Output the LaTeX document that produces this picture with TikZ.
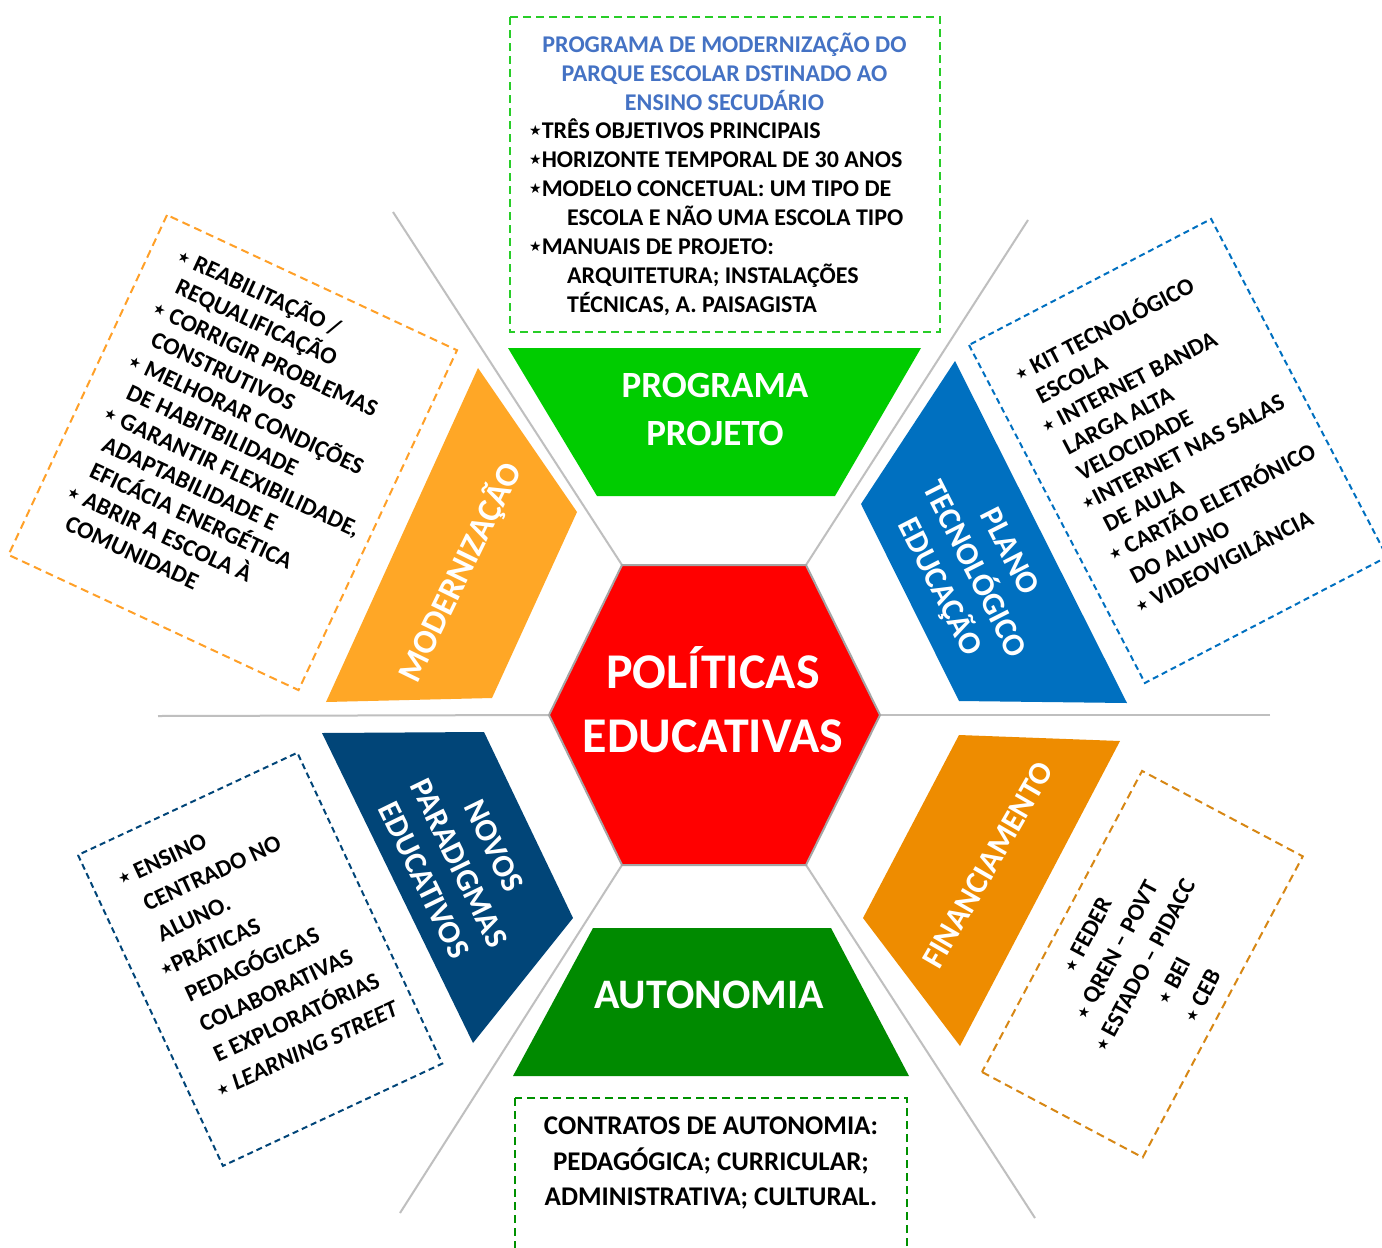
\documentclass[tikz,border=0pt]{standalone}
\usepackage{fontspec}
\setmainfont{Carlito}
\newfontfamily\starfont{DejaVu Sans}
\newcommand{\bst}{\raisebox{2.5pt}{\starfont\fontsize{14}{14}\selectfont ★}}
\definecolor{cGreenTop}{RGB}{0,204,0}
\definecolor{cGreenBot}{RGB}{0,138,0}
\definecolor{cOrangeMod}{RGB}{255,167,38}
\definecolor{cBlue}{RGB}{0,112,192}
\definecolor{cNavy}{RGB}{1,69,120}
\definecolor{cOrangeFin}{RGB}{238,140,0}
\definecolor{cRed}{RGB}{255,0,0}
\definecolor{cLine}{RGB}{191,191,191}
\definecolor{cHexEdge}{RGB}{165,165,165}
\definecolor{cTitle}{RGB}{68,114,196}
\definecolor{cDashTop}{RGB}{40,205,40}
\definecolor{cDashBot}{RGB}{0,145,0}
\definecolor{cDashOr}{RGB}{255,160,40}
\definecolor{cDashFin}{RGB}{215,135,20}
\tikzset{
  greyline/.style={draw=cLine, line width=2pt},
  dbox/.style={dash pattern=on 8pt off 5pt, line width=2pt},
  bigtxt/.style={text=white, align=center, inner sep=0pt},
  boxtxt/.style={font=\bfseries\fontsize{24}{29}\selectfont, align=left, inner sep=0pt},
}
\begin{document}
\begin{tikzpicture}[x=1pt,y=-1pt]
\useasboundingbox (0,0) rectangle (1382,1248);
\fill[white] (0,0) rectangle (1382,1248);

% hexagon vertices
\coordinate (h1) at (549,715);
\coordinate (h2) at (622,565);
\coordinate (h3) at (806,565);
\coordinate (h4) at (880,715);
\coordinate (h5) at (806,865);
\coordinate (h6) at (622,865);
% outer ends of the grey lines
\coordinate (eUL) at (393,212);
\coordinate (eUR) at (1028,220);
\coordinate (eL) at (158,716);
\coordinate (eR) at (1270,715);
\coordinate (eLL) at (400,1213);
\coordinate (eLR) at (1035,1218);

\draw[greyline] (eUL) -- (h2);
\draw[greyline] (eUR) -- (h3);
\draw[greyline] (eL) -- (h1);
\draw[greyline] (eR) -- (h4);
\draw[greyline] (eLL) -- (h6);
\draw[greyline] (eLR) -- (h5);

\filldraw[fill=cRed, draw=cHexEdge, line width=2pt] (h1)--(h2)--(h3)--(h4)--(h5)--(h6)--cycle;
\node[bigtxt, font=\bfseries\fontsize{50}{64}\selectfont] (pol) at (713,700) {POLÍTICAS\\EDUCATIVAS};

% trapezoids
\fill[cGreenTop] (508,348) -- (921,348) -- (835,496) -- (597,496) -- cycle;
\node[bigtxt, font=\bfseries\fontsize{37}{48}\selectfont] (prog) at (715,409) {PROGRAMA\\PROJETO};

\fill[cOrangeMod] (478,368) -- (577,512) -- (492,698) -- (326,702) -- cycle;
\node[bigtxt, rotate=64, font=\bfseries\fontsize{34}{40}\selectfont] (mod) at (460,572) {MODERNIZAÇÃO};

\fill[cBlue] (955,361) -- (1127,703) -- (959,701) -- (861,504) -- cycle;
\node[bigtxt, rotate=-63, font=\bfseries\fontsize{32}{39}\selectfont] (plano) at (973,570) {PLANO\\TECNOLÓGICO\\EDUCAÇÃO};

\fill[cNavy] (322,733) -- (484,732) -- (573,918) -- (473,1043) -- cycle;
\node[bigtxt, rotate=-64, font=\bfseries\fontsize{32}{39}\selectfont] (novos) at (459,863) {NOVOS\\PARADIGMAS\\EDUCATIVOS};

\fill[cOrangeFin] (959,735) -- (1120,741) -- (960,1046) -- (863,918) -- cycle;
\node[bigtxt, rotate=60, font=\bfseries\fontsize{32}{39}\selectfont] (fin) at (988,865) {FINANCIAMENTO};

\fill[cGreenBot] (593,928) -- (831,928) -- (909,1076) -- (513,1076) -- cycle;
\node[bigtxt, font=\bfseries\fontsize{42}{48}\selectfont] (auto) at (709,995) {AUTONOMIA};

% top box
\draw[dbox, draw=cDashTop] (510,17) rectangle (940,332);
\node[text=cTitle, align=center, inner sep=0pt, font=\bfseries\fontsize{24}{29}\selectfont] (toptitle) at (724.5,72)
  {PROGRAMA DE MODERNIZAÇÃO DO\\PARQUE ESCOLAR DSTINADO AO\\ENSINO SECUDÁRIO};
\node[boxtxt, anchor=west] (toplist) at (529,217)
  {\bst TRÊS OBJETIVOS PRINCIPAIS\\
   \bst HORIZONTE TEMPORAL DE 30 ANOS\\
   \bst MODELO CONCETUAL: UM TIPO DE\\
   \hspace*{38pt}ESCOLA E NÃO UMA ESCOLA TIPO\\
   \bst MANUAIS DE PROJETO:\\
   \hspace*{38pt}ARQUITETURA; INSTALAÇÕES\\
   \hspace*{38pt}TÉCNICAS, A. PAISAGISTA};

% left orange box
\begin{scope}[shift={(167,215)}, rotate=-25, transform shape]
  \draw[dbox, draw=cDashOr] (0,0) rectangle (320,375);
  \node[boxtxt, anchor=west] (modlist) at (27,174)
   {\bst\ REABILITAÇÃO /\\
    \hspace*{12pt}REQUALIFICAÇÃO\\
    \bst\ CORRIGIR PROBLEMAS\\
    \hspace*{12pt}CONSTRUTIVOS\\
    \bst\ MELHORAR CONDIÇÕES\\
    \hspace*{12pt}DE HABITBILIDADE\\
    \bst\ GARANTIR FLEXIBILIDADE,\\
    \hspace*{12pt}ADAPTABILIDADE E\\
    \hspace*{12pt}EFICÁCIA ENERGÉTICA\\
    \bst\ ABRIR A ESCOLA À\\
    \hspace*{12pt}COMUNIDADE};
\end{scope}

% right blue box
\begin{scope}[shift={(969,345)}, rotate=27.5, transform shape]
  \draw[dbox, dash pattern=on 6pt off 4pt, draw=cBlue] (0,0) rectangle (273,381);
  \node[boxtxt, anchor=west] (planolist) at (27,177.5)
   {\bst\ KIT TECNOLÓGICO\\
    \hspace*{10pt}ESCOLA\\
    \bst\ INTERNET BANDA\\
    \hspace*{10pt}LARGA ALTA\\
    \hspace*{10pt}VELOCIDADE\\
    \bst INTERNET NAS SALAS\\
    \hspace*{10pt}DE AULA\\
    \bst\ CARTÃO ELETRÓNICO\\
    \hspace*{10pt}DO ALUNO\\
    \bst\ VIDEOVIGILÂNCIA};
\end{scope}

% lower left navy box
\begin{scope}[shift={(78,855)}, rotate=25, transform shape]
  \draw[dbox, dash pattern=on 6pt off 4pt, draw=cNavy] (0,0) rectangle (242,343);
  \node[boxtxt, font=\bfseries\fontsize{24}{33.3}\selectfont, anchor=west] (novoslist) at (26,156.5)
   {\bst\ ENSINO\\
    \hspace*{13pt}CENTRADO NO\\
    \hspace*{13pt}ALUNO.\\
    \bst PRÁTICAS\\
    \hspace*{13pt}PEDAGÓGICAS\\
    \hspace*{13pt}COLABORATIVAS\\
    \hspace*{13pt}E EXPLORATÓRIAS\\
    \bst\ \textit{LEARNING STREET}};
\end{scope}

% lower right financing box
\begin{scope}[shift={(982,1072)}, rotate=62, transform shape]
  \draw[dbox, draw=cDashFin] (0,0) rectangle (341,182);
  \node[boxtxt, font=\bfseries\fontsize{24}{32.5}\selectfont, align=center] (finlist) at (170.5,93.7)
   {\bst\ FEDER\\
    \bst\ QREN – POVT\\
    \bst\ ESTADO – PIDACC\\
    \bst\ BEI\\
    \bst\ CEB};
\end{scope}

% bottom box
\draw[dbox, draw=cDashBot] (515,1098) rectangle (907,1275);
\node[align=center, inner sep=0pt, font=\bfseries\fontsize{27}{35.5}\selectfont] (autolist) at (711,1163)
  {CONTRATOS DE AUTONOMIA:\\PEDAGÓGICA; CURRICULAR;\\ADMINISTRATIVA; CULTURAL.};
\end{tikzpicture}
\end{document}
